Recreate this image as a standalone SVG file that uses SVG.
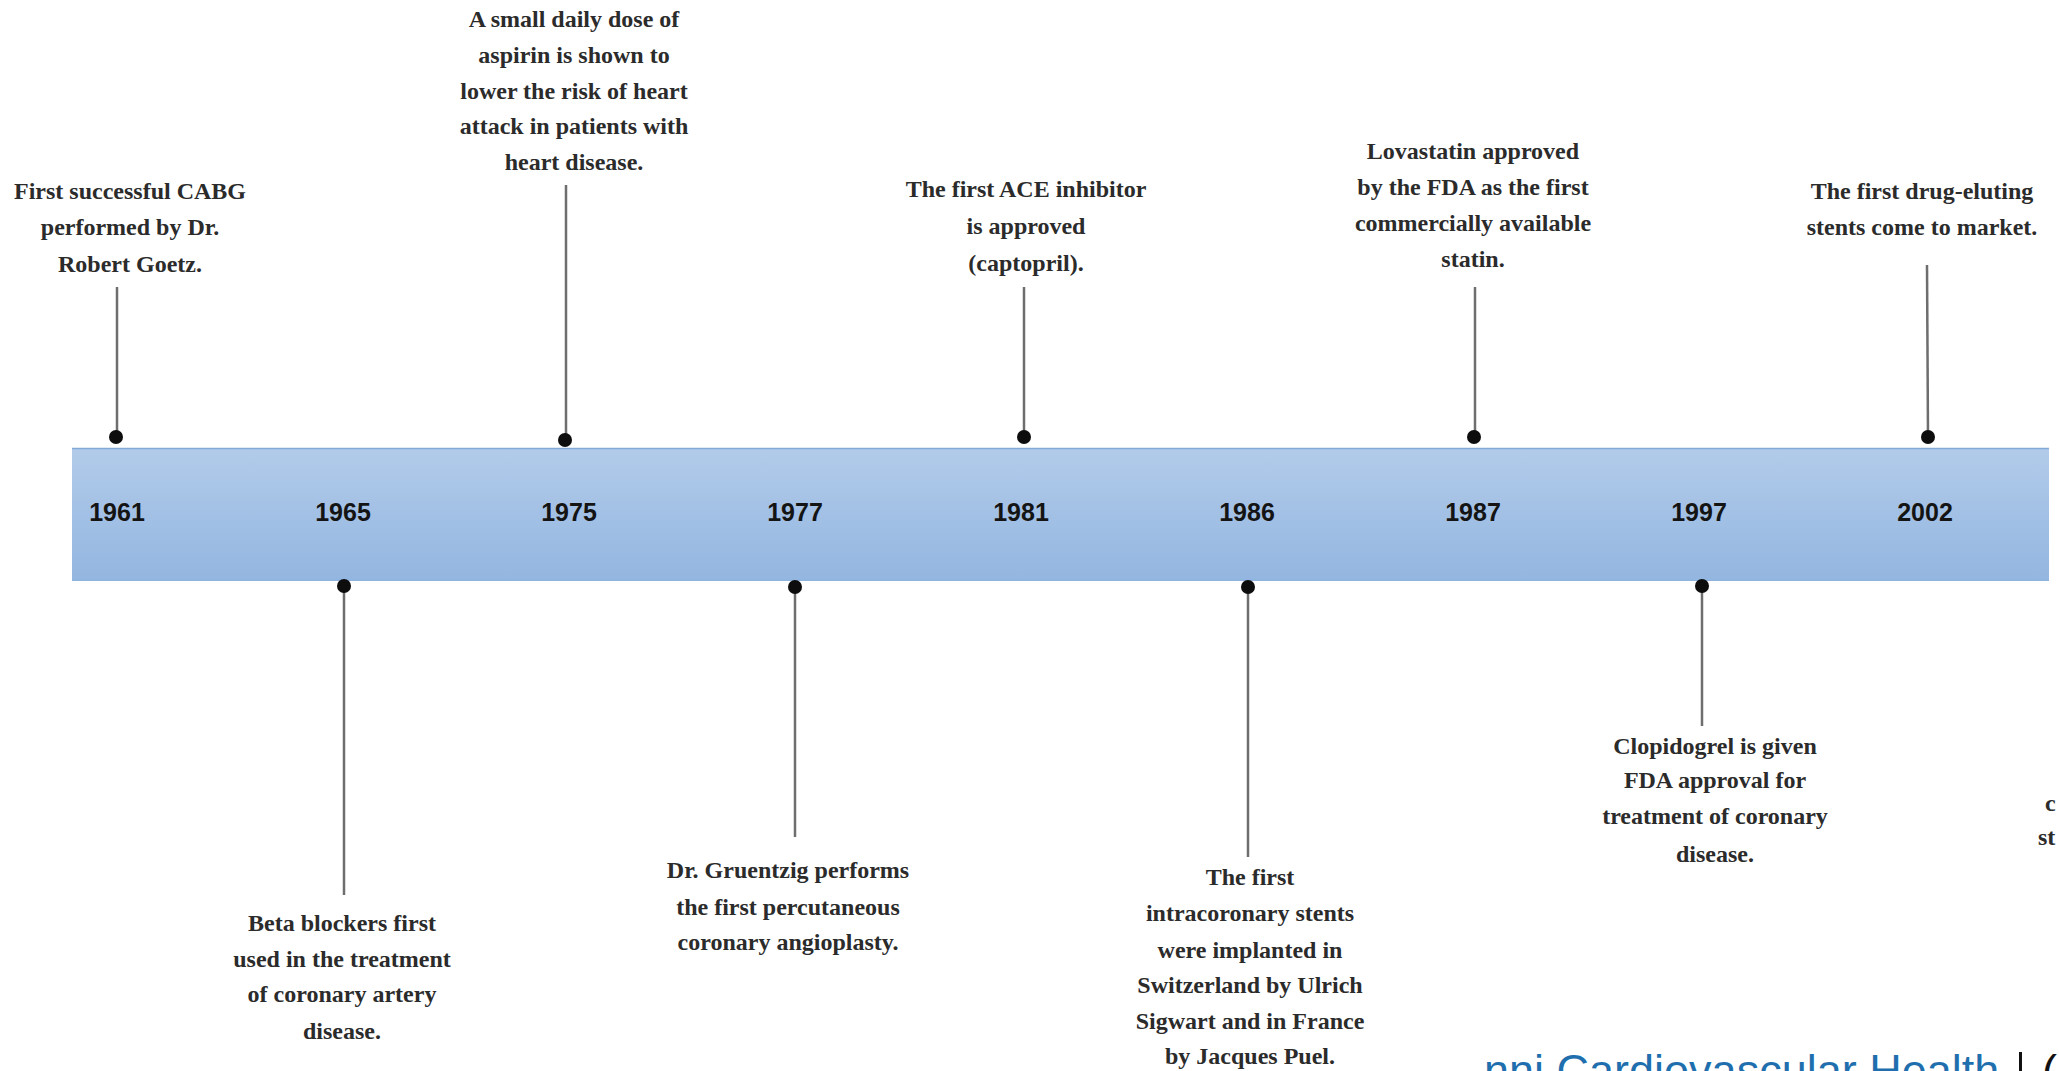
<svg xmlns="http://www.w3.org/2000/svg" width="2059" height="1071" viewBox="0 0 2059 1071">
  <defs>
    <linearGradient id="barGrad" x1="0" y1="0" x2="0" y2="1">
      <stop offset="0" stop-color="#b2cbea"/>
      <stop offset="1" stop-color="#93b6e0"/>
    </linearGradient>
    <style>
      .lbl { font-family: "Liberation Serif", "Times New Roman", serif; font-size: 24px; font-weight: bold; fill: #2b2b2b; text-anchor: middle; }
      .yr { font-family: "Liberation Sans", Arial, sans-serif; font-size: 25px; font-weight: bold; fill: #141414; text-anchor: middle; }
      .stem { stroke: #6e6e6e; stroke-width: 2.5; fill: none; }
      .dot { fill: #0d0d0d; }
      .cite { font-family: "Liberation Sans", Arial, sans-serif; font-size: 45px; fill: #1f6fae; }
    </style>
  </defs>
  <rect x="0" y="0" width="2059" height="1071" fill="#ffffff"/>

  <g id="timeline-bar">
    <rect x="72" y="448" width="1977" height="133" fill="url(#barGrad)"/>
    <line x1="72" y1="448.5" x2="2049" y2="448.5" stroke="#86aad8" stroke-width="1.5"/>
    <line x1="72" y1="580.5" x2="2049" y2="580.5" stroke="#8fb3de" stroke-width="1"/>
    <text class="yr" x="117" y="521">1961</text>
    <text class="yr" x="343" y="521">1965</text>
    <text class="yr" x="569" y="521">1975</text>
    <text class="yr" x="795" y="521">1977</text>
    <text class="yr" x="1021" y="521">1981</text>
    <text class="yr" x="1247" y="521">1986</text>
    <text class="yr" x="1473" y="521">1987</text>
    <text class="yr" x="1699" y="521">1997</text>
    <text class="yr" x="1925" y="521">2002</text>
  </g>

  <g id="connectors">
    <line class="stem" x1="117" y1="287" x2="117" y2="437"/>
    <line class="stem" x1="566" y1="185" x2="566" y2="440"/>
    <line class="stem" x1="1024" y1="287" x2="1024" y2="437"/>
    <line class="stem" x1="1475" y1="287" x2="1475" y2="437"/>
    <line class="stem" x1="1927" y1="265" x2="1928" y2="437"/>
    <line class="stem" x1="344" y1="587" x2="344" y2="895"/>
    <line class="stem" x1="795" y1="587" x2="795" y2="837"/>
    <line class="stem" x1="1248" y1="587" x2="1248" y2="857"/>
    <line class="stem" x1="1702" y1="587" x2="1702" y2="726"/>
    <circle class="dot" cx="116" cy="437" r="7"/>
    <circle class="dot" cx="565" cy="440" r="7"/>
    <circle class="dot" cx="1024" cy="437" r="7"/>
    <circle class="dot" cx="1474" cy="437" r="7"/>
    <circle class="dot" cx="1928" cy="437" r="7"/>
    <circle class="dot" cx="344" cy="586" r="7"/>
    <circle class="dot" cx="795" cy="587" r="7"/>
    <circle class="dot" cx="1248" cy="587" r="7"/>
    <circle class="dot" cx="1702" cy="586" r="7"/>
  </g>

  <g id="event-1961">
    <text class="lbl" x="130" y="199">First successful CABG</text>
    <text class="lbl" x="130" y="235">performed by Dr.</text>
    <text class="lbl" x="130" y="272">Robert Goetz.</text>
  </g>
  <g id="event-1965">
    <text class="lbl" x="342" y="931">Beta blockers first</text>
    <text class="lbl" x="342" y="967">used in the treatment</text>
    <text class="lbl" x="342" y="1002">of coronary artery</text>
    <text class="lbl" x="342" y="1039">disease.</text>
  </g>
  <g id="event-1975">
    <text class="lbl" x="574" y="27">A small daily dose of</text>
    <text class="lbl" x="574" y="63">aspirin is shown to</text>
    <text class="lbl" x="574" y="99">lower the risk of heart</text>
    <text class="lbl" x="574" y="134">attack in patients with</text>
    <text class="lbl" x="574" y="170">heart disease.</text>
  </g>
  <g id="event-1977">
    <text class="lbl" x="788" y="878">Dr. Gruentzig performs</text>
    <text class="lbl" x="788" y="915">the first percutaneous</text>
    <text class="lbl" x="788" y="950">coronary angioplasty.</text>
  </g>
  <g id="event-1981">
    <text class="lbl" x="1026" y="197">The first ACE inhibitor</text>
    <text class="lbl" x="1026" y="234">is approved</text>
    <text class="lbl" x="1026" y="271">(captopril).</text>
  </g>
  <g id="event-1986">
    <text class="lbl" x="1250" y="885">The first</text>
    <text class="lbl" x="1250" y="921">intracoronary stents</text>
    <text class="lbl" x="1250" y="958">were implanted in</text>
    <text class="lbl" x="1250" y="993">Switzerland by Ulrich</text>
    <text class="lbl" x="1250" y="1029">Sigwart and in France</text>
    <text class="lbl" x="1250" y="1064">by Jacques Puel.</text>
  </g>
  <g id="event-1987">
    <text class="lbl" x="1473" y="159">Lovastatin approved</text>
    <text class="lbl" x="1473" y="195">by the FDA as the first</text>
    <text class="lbl" x="1473" y="231">commercially available</text>
    <text class="lbl" x="1473" y="267">statin.</text>
  </g>
  <g id="event-1997">
    <text class="lbl" x="1715" y="754">Clopidogrel is given</text>
    <text class="lbl" x="1715" y="788">FDA approval for</text>
    <text class="lbl" x="1715" y="824">treatment of coronary</text>
    <text class="lbl" x="1715" y="862">disease.</text>
  </g>
  <g id="event-2002">
    <text class="lbl" x="1922" y="199">The first drug-eluting</text>
    <text class="lbl" x="1922" y="235">stents come to market.</text>
  </g>
  <g id="event-cut">
    <text class="lbl" x="2045" y="811" style="text-anchor:start">c</text>
    <text class="lbl" x="2038" y="845" style="text-anchor:start">st</text>
  </g>

  <g id="citation">
    <text class="cite" x="1484" y="1086">nni Cardiovascular Health</text>
    <rect x="2019" y="1052" width="3" height="19" fill="#111"/>
    <text x="2042" y="1086" style="font-family:'Liberation Sans',Arial,sans-serif;font-size:45px;fill:#111">(</text>
  </g>
</svg>
